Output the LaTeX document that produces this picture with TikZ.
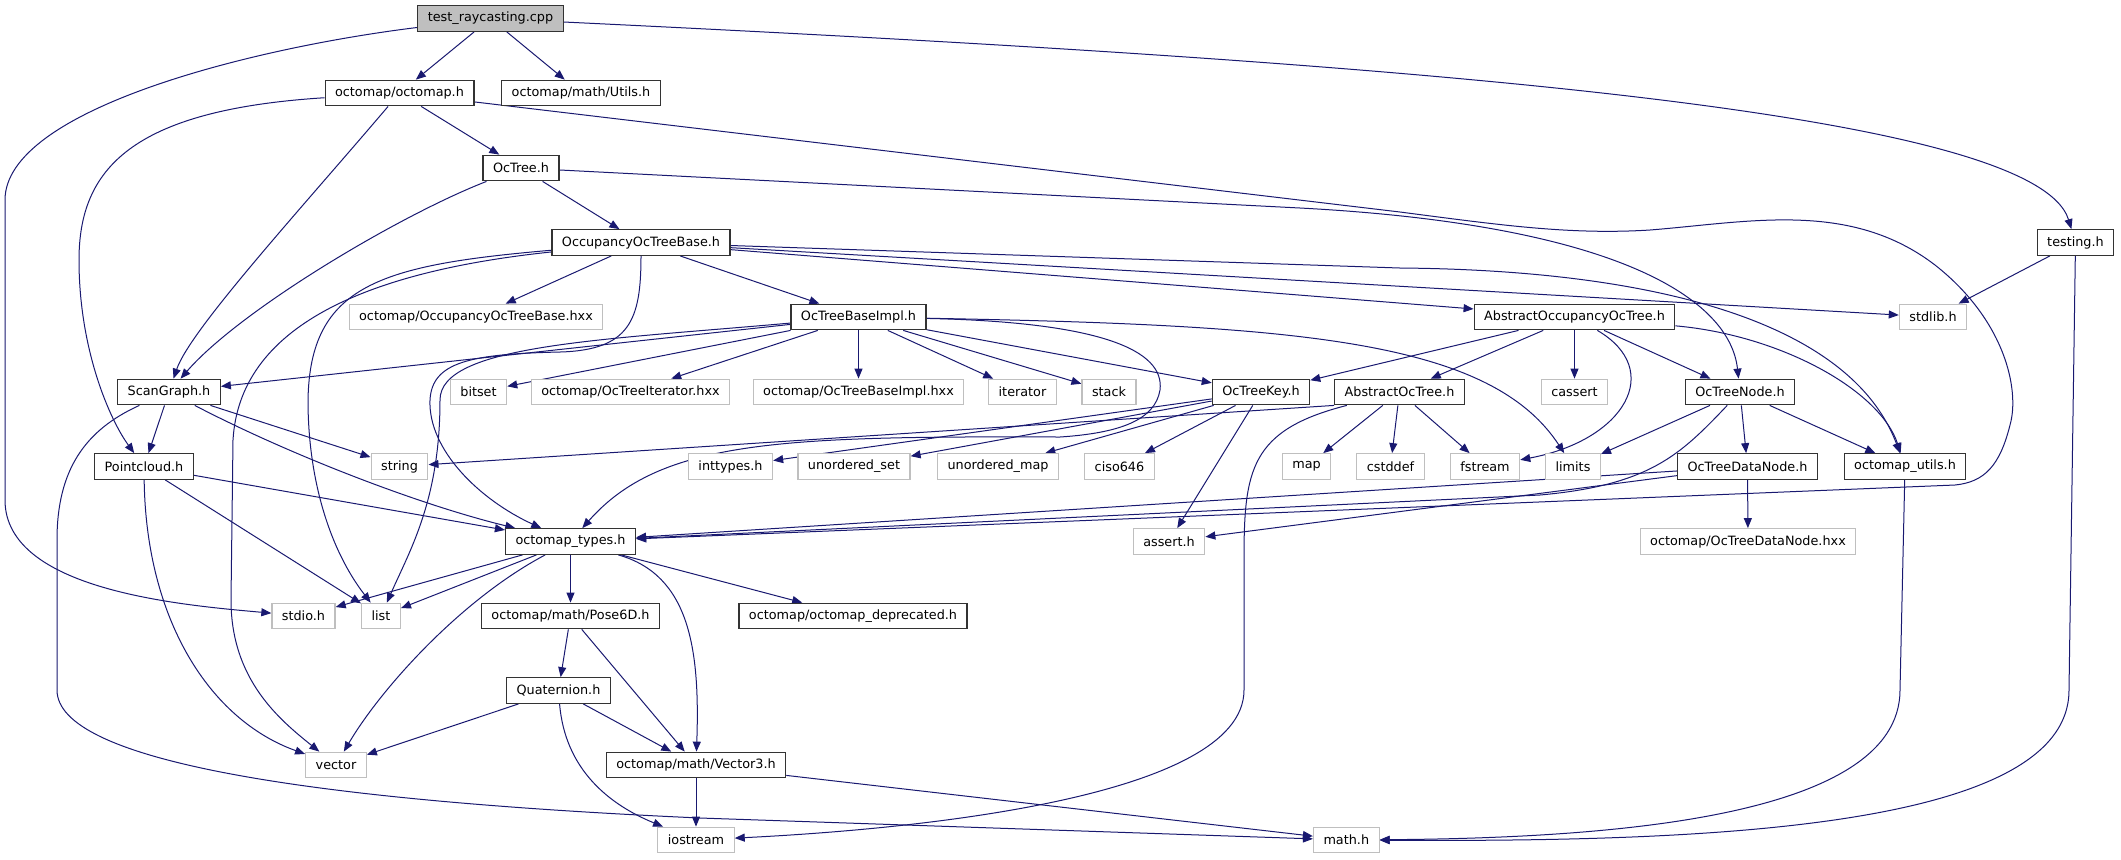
\documentclass[tikz,border=0pt]{standalone}
\usepackage{fontspec}
\setmainfont{DejaVu Sans}
\usetikzlibrary{arrows.meta,backgrounds}
\definecolor{edgeblue}{HTML}{191970}
\definecolor{sysgray}{HTML}{BFBFBF}
\definecolor{rootfill}{HTML}{BFBFBF}

\begin{document}
\begin{tikzpicture}[x=0.5pt,y=-0.5pt,
    hdr/.style={draw=black!80,line width=0.6pt,fill=white,inner xsep=5pt,inner ysep=0pt,
      minimum height=12.8pt,font=\fontsize{6.4}{7}\selectfont},
    sys/.style={hdr,draw=sysgray},
    rootbox/.style={hdr,fill=rootfill},
    inc/.style={draw=edgeblue,line width=0.5pt,-{Triangle[length=5pt,width=4pt]}}]
  \useasboundingbox (0,0) rectangle (2121,859);
  % Header boxes, row by row
  \node[rootbox] (root) at (490.5,18.5) {test\_raycasting.cpp};
  \node[hdr] (octomap) at (399.5,93) {octomap/octomap.h};
  \node[hdr] (utils) at (581,93) {octomap/math/Utils.h};
  \node[hdr] (octree) at (521,168) {OcTree.h};
  \node[hdr] (occbase) at (641,242.5) {OccupancyOcTreeBase.h};
  \node[hdr] (testing) at (2075.5,242.5) {testing.h};
  \node[sys] (occhxx) at (476,317) {octomap/OccupancyOcTreeBase.hxx};
  \node[hdr] (baseimpl) at (858.5,317) {OcTreeBaseImpl.h};
  \node[hdr] (absocc) at (1574.5,317) {AbstractOccupancyOcTree.h};
  \node[sys] (stdlib) at (1933,317) {stdlib.h};
  \node[hdr] (scangraph) at (169,392) {ScanGraph.h};
  \node[sys] (bitset) at (478.5,392) {bitset};
  \node[sys] (iterhxx) at (630.5,392) {octomap/OcTreeIterator.hxx};
  \node[sys] (implhxx) at (858.5,392) {octomap/OcTreeBaseImpl.hxx};
  \node[sys] (iterator) at (1022.5,392) {iterator};
  \node[sys] (stack) at (1109,392) {stack};
  \node[hdr] (key) at (1261,392) {OcTreeKey.h};
  \node[hdr] (absoct) at (1399.5,392) {AbstractOcTree.h};
  \node[sys] (cassert) at (1574.5,392) {cassert};
  \node[hdr] (treenode) at (1740,392) {OcTreeNode.h};
  \node[hdr] (pointcloud) at (144,466.5) {Pointcloud.h};
  \node[sys] (string) at (399.5,466.5) {string};
  \node[sys] (inttypes) at (730.5,466.5) {inttypes.h};
  \node[sys] (uset) at (854,466.5) {unordered\_set};
  \node[sys] (umap) at (998,466.5) {unordered\_map};
  \node[sys] (ciso) at (1119.5,466.5) {ciso646};
  \node[sys] (map) at (1306.5,466.5) {map};
  \node[sys] (cstddef) at (1390.5,466.5) {cstddef};
  \node[sys] (fstream) at (1485,466.5) {fstream};
  \node[sys] (limits) at (1573,466.5) {limits};
  \node[hdr] (datanode) at (1747.5,466.5) {OcTreeDataNode.h};
  \node[hdr] (utilsh) at (1905,466.5) {octomap\_utils.h};
  \node[hdr] (types) at (570.5,541.5) {octomap\_types.h};
  \node[sys] (assert) at (1169,541.5) {assert.h};
  \node[sys] (datahxx) at (1748,541.5) {octomap/OcTreeDataNode.hxx};
  \node[sys] (stdio) at (303.5,616) {stdio.h};
  \node[sys] (list) at (381,616) {list};
  \node[hdr] (pose) at (570.5,616) {octomap/math/Pose6D.h};
  \node[hdr] (deprecated) at (853,616) {octomap/octomap\_deprecated.h};
  \node[hdr] (quat) at (558.5,690.5) {Quaternion.h};
  \node[sys] (vector) at (336,765) {vector};
  \node[hdr] (vector3) at (696,765) {octomap/math/Vector3.h};
  \node[sys] (iostream) at (696,840) {iostream};
  \node[sys] (math) at (1346.3,840) {math.h};

  \begin{pgfonlayer}{background}
    % Straight includes
    \foreach \a/\b in {root/octomap, root/utils, octomap/octree, octree/occbase,
        occbase/occhxx, occbase/baseimpl, occbase/absocc, occbase/stdlib,
        baseimpl/scangraph, baseimpl/bitset, baseimpl/iterhxx, baseimpl/implhxx,
        baseimpl/iterator, baseimpl/stack, baseimpl/key,
        absocc/key, absocc/absoct, absocc/cassert, absocc/treenode, testing/stdlib,
        key/inttypes, key/uset, key/umap, key/ciso, key/assert,
        absoct/map, absoct/cstddef, absoct/fstream,
        treenode/limits, treenode/datanode, treenode/utilsh,
        datanode/types, datanode/assert, datanode/datahxx,
        scangraph/pointcloud, scangraph/string,
        pointcloud/types, pointcloud/list,
        types/stdio, types/list, types/pose, types/deprecated,
        pose/quat, pose/vector3, quat/vector, quat/vector3,
        vector3/iostream, vector3/math}
      \draw[inc] (\a) -- (\b);

    % Curved includes
    \draw[inc] (root) .. controls (250,48) and (5,110) .. (5,200) -- (5,500)
      .. controls (5,590) and (180,605) .. (stdio);
    \draw[inc] (root) .. controls (1400,62) and (2035,110) .. (testing);
    \draw[inc] (octomap) .. controls (300,210) and (190,330) .. (scangraph);
    \draw[inc] (octomap) .. controls (130,110) and (79,170) .. (79,260)
      .. controls (79,350) and (110,420) .. (pointcloud);
    \draw[inc] (octomap) -- (1400,212) .. controls (1500,225) and (1570,235) .. (1650,230)
      .. controls (1750,222) and (1850,200) .. (1935,265)
      .. controls (2005,320) and (2020,390) .. (2010,425)
      .. controls (2000,465) and (1985,482) .. (1955,485) -- (types);
    \draw[inc] (octree) .. controls (400,215) and (240,310) .. (scangraph);
    \draw[inc] (octree) -- (1300,208) .. controls (1620,225) and (1730,300) .. (treenode);
    \draw[inc] (occbase) .. controls (380,270) and (240,320) .. (233,440) -- (231,600)
      .. controls (231,680) and (280,720) .. (vector);
    \draw[inc] (occbase) .. controls (380,265) and (310,285) .. (308,400)
      .. controls (308,480) and (330,550) .. (list);
    \draw[inc] (occbase) .. controls (641,320) and (630,350) .. (560,352)
      .. controls (470,354) and (432,362) .. (430,400)
      .. controls (428,450) and (480,500) .. (types);
    \draw[inc] (occbase) -- (1400,268) .. controls (1650,270) and (1850,320) .. (utilsh);
    \draw[inc] (absocc) .. controls (1780,335) and (1880,390) .. (utilsh);
    \draw[inc] (absocc) .. controls (1665,370) and (1625,440) .. (fstream);
    \draw[inc] (baseimpl) .. controls (1300,325) and (1490,340) .. (limits);
    \draw[inc] (baseimpl) .. controls (600,340) and (440,345) .. (440,400)
      .. controls (440,500) and (410,550) .. (list);
    \draw[inc] (baseimpl) .. controls (1100,322) and (1165,350) .. (1160,390)
      .. controls (1155,420) and (1120,433) .. (1060,437)
      .. controls (780,436) and (660,440) .. (types);
    \draw[inc] (absoct.south west) -- (string);
    \draw[inc] (absoct) .. controls (1250,430) and (1244,470) .. (1244,560) -- (1244,690)
      .. controls (1244,800) and (900,830) .. (iostream);
    \draw[inc] (treenode) .. controls (1680,455) and (1650,485) .. (1540,495) -- (types);
    \draw[inc] (utilsh) -- (1900,690) .. controls (1900,820) and (1600,838) .. (math);
    \draw[inc] (testing) -- (2069,690) .. controls (2069,830) and (1700,842) .. (math);
    \draw[inc] (scangraph) .. controls (85,430) and (57,470) .. (57,540) -- (57,690)
      .. controls (57,760) and (300,800) .. (700,818) -- (math);
    \draw[inc] (scangraph) .. controls (290,455) and (420,505) .. (types);
    \draw[inc] (pointcloud) .. controls (146,620) and (210,720) .. (vector);
    \draw[inc] (types) .. controls (460,600) and (380,690) .. (vector);
    \draw[inc] (types) .. controls (690,575) and (700,650) .. (vector3);
    \draw[inc] (quat) .. controls (565,770) and (610,805) .. (iostream);
  \end{pgfonlayer}
\end{tikzpicture}
\end{document}
